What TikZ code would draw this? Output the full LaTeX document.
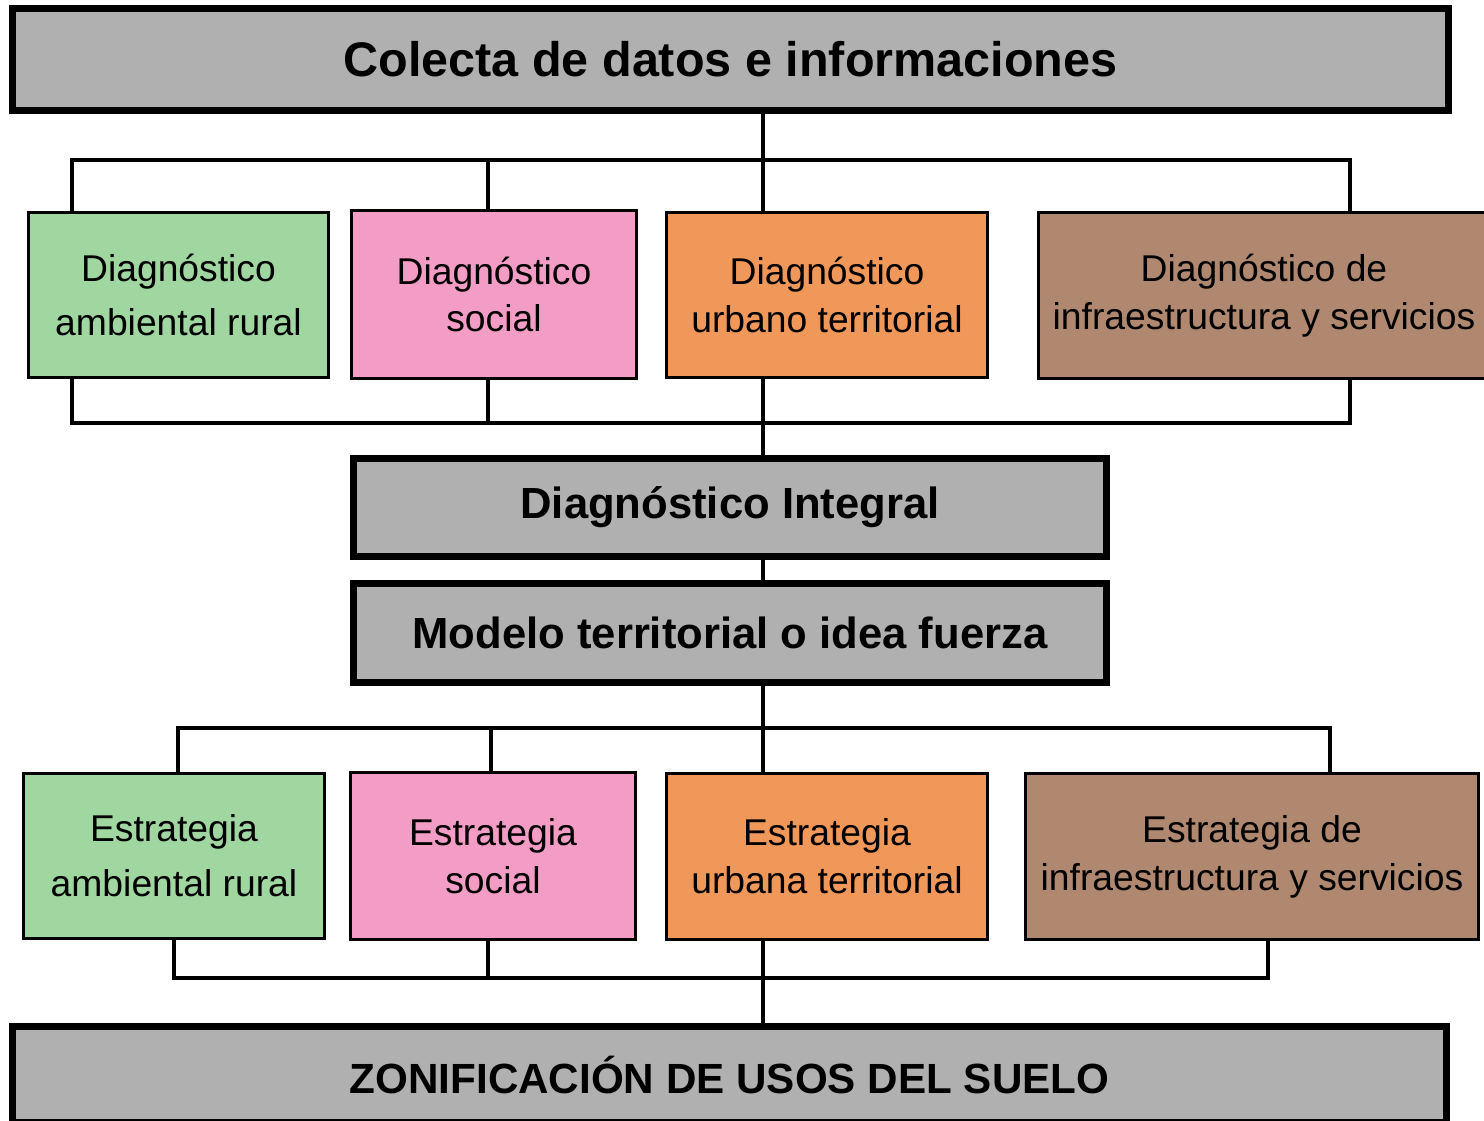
\documentclass[tikz,border=0pt]{standalone}
\usepackage{fontspec}
\setmainfont{Liberation Sans}
\definecolor{verde}{RGB}{160,214,160}
\definecolor{rosa}{RGB}{242,156,198}
\definecolor{naranja}{RGB}{240,151,90}
\definecolor{cafe}{RGB}{176,136,112}
\definecolor{gris}{RGB}{176,176,176}
\begin{document}
\begin{tikzpicture}[x=0.01cm,y=-0.01cm,
  titulo/.style={draw,line width=2pt,fill=gris,inner sep=0pt,font=\fontsize{12.4}{15}\selectfont\bfseries},
  caja/.style={draw,line width=0.9pt,align=center,inner sep=0pt,font=\fontsize{10.6}{13.6}\selectfont},
  linea/.style={line width=0.9pt,line cap=rect}]
\clip (0,0) rectangle (1484,1121);
% grey boxes
\node[titulo,minimum width=14.36cm,minimum height=1.02cm,font=\fontsize{13.8}{16}\selectfont\bfseries] (colecta) at (730.5,59.5) {Colecta de datos e informaciones};
\node[titulo,minimum width=7.53cm,minimum height=0.98cm] (integral) at (730,507.5) {Diagnóstico Integral};
\node[titulo,minimum width=7.53cm,minimum height=0.99cm] (modelo) at (730,633) {Modelo territorial o idea fuerza};
\node[titulo,minimum width=14.34cm,minimum height=0.96cm,font=\fontsize{12}{15}\selectfont\bfseries] (zonif) at (729.5,1074.5) {ZONIFICACIÓN DE USOS DEL SUELO};
% diagnosticos
\node[caja,fill=verde,minimum width=3.00cm,minimum height=1.65cm,font=\fontsize{10.6}{15.6}\selectfont] (da) at (178.5,295) {Diagnóstico\\ambiental rural};
\node[caja,fill=rosa,minimum width=2.85cm,minimum height=1.68cm] (ds) at (494,294.5) {Diagnóstico\\social};
\node[caja,fill=naranja,minimum width=3.21cm,minimum height=1.65cm] (du) at (827,295) {Diagnóstico\\urbano territorial};
\node[caja,fill=cafe,minimum width=4.50cm,minimum height=1.66cm] (di) at (1264,295.5) {Diagnóstico de\\infraestructura y servicios};
% estrategias
\node[caja,fill=verde,minimum width=3.01cm,minimum height=1.65cm,font=\fontsize{10.6}{15.6}\selectfont] (ea) at (174,856) {Estrategia\\ambiental rural};
\node[caja,fill=rosa,minimum width=2.85cm,minimum height=1.67cm] (es) at (493,856) {Estrategia\\social};
\node[caja,fill=naranja,minimum width=3.21cm,minimum height=1.66cm] (eu) at (827,856.5) {Estrategia\\urbana territorial};
\node[caja,fill=cafe,minimum width=4.53cm,minimum height=1.66cm] (ei) at (1252,856.5) {Estrategia de\\infraestructura y servicios};
% brackets
\coordinate (a1) at (72,160); \coordinate (a2) at (488,160);
\coordinate (a3) at (763,160); \coordinate (a4) at (1350,160);
\coordinate (b1) at (72,423); \coordinate (b2) at (488,423);
\coordinate (b3) at (763,423); \coordinate (b4) at (1350,423);
\coordinate (c1) at (178,728); \coordinate (c2) at (491,728);
\coordinate (c3) at (763,728); \coordinate (c4) at (1330,728);
\coordinate (d1) at (174,978); \coordinate (d2) at (488,978);
\coordinate (d3) at (763,978); \coordinate (d4) at (1268,978);
\draw[linea] (colecta.south -| a3) -- (a3);
\draw[linea] (a1) -- (a4);
\foreach \p/\n in {a1/da,a2/ds,a3/du,a4/di}
  \draw[linea] (\p) -- (\p |- \n.north);
\foreach \p/\n in {b1/da,b2/ds,b3/du,b4/di}
  \draw[linea] (\p |- \n.south) -- (\p);
\draw[linea] (b1) -- (b4);
\draw[linea] (b3) -- (b3 |- integral.north);
\draw[linea] (integral.south -| b3) -- (modelo.north -| b3);
\draw[linea] (modelo.south -| c3) -- (c3);
\draw[linea] (c1) -- (c4);
\foreach \p/\n in {c1/ea,c2/es,c3/eu,c4/ei}
  \draw[linea] (\p) -- (\p |- \n.north);
\foreach \p/\n in {d1/ea,d2/es,d3/eu,d4/ei}
  \draw[linea] (\p |- \n.south) -- (\p);
\draw[linea] (d1) -- (d4);
\draw[linea] (d3) -- (d3 |- zonif.north);
\end{tikzpicture}
\end{document}
